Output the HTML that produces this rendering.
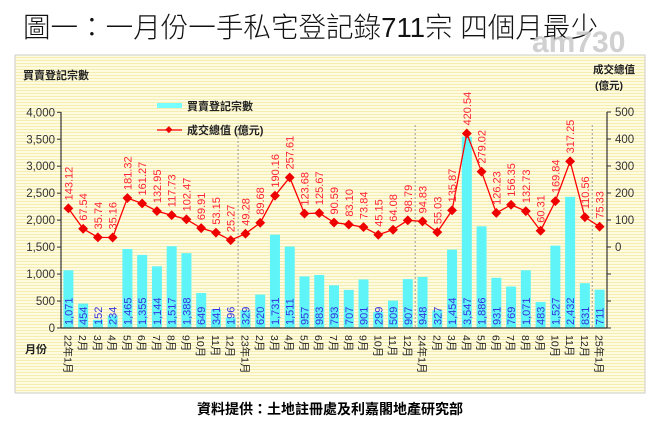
<!DOCTYPE html>
<html><head><meta charset="utf-8"><style>
body{margin:0;background:#fff;width:663px;height:431px;overflow:hidden}
svg{display:block}
text{font-family:"Liberation Sans","Noto Sans CJK TC",sans-serif}
</style></head><body>
<svg id="s" width="663" height="431" xmlns="http://www.w3.org/2000/svg">
<defs>
<pattern id="st" width="4" height="3" patternUnits="userSpaceOnUse">
<rect width="4" height="3" fill="#fffbe0"/><rect width="4" height="1" fill="#f6eeb0"/>
</pattern>
</defs>
<text x="23" y="37" font-size="28" font-weight="300" textLength="575" lengthAdjust="spacingAndGlyphs" fill="#111" font-family="'Noto Sans CJK TC',sans-serif">圖一：一月份一手私宅登記錄711宗 四個月最少</text>
<text x="532" y="52" font-size="30" font-weight="bold" fill="#c8c8c8" opacity="0.85">am730</text>
<rect x="15" y="55" width="630" height="338" fill="url(#st)" stroke="#ccc"/>
<g id="g"></g>
<text x="197" y="414" font-size="14" font-weight="bold" fill="#000" font-family="'Noto Sans CJK TC',sans-serif">資料提供：土地註冊處及利嘉閣地產研究部</text>
</svg>
<script>
var bars=[1071,454,152,234,1465,1355,1144,1517,1388,649,341,196,329,620,1731,1511,957,983,793,707,901,299,509,907,948,327,1454,3547,1886,931,769,1071,483,1527,2432,831,711];
var vals=["143.12","67.54","35.74","35.16","181.32","161.27","132.95","117.73","102.47","69.91","53.15","25.27","49.28","89.68","190.16","257.61","123.68","125.67","90.59","83.10","73.84","45.15","64.08","98.79","94.83","55.03","135.87","420.54","279.02","126.23","156.35","132.73","60.31","169.84","317.25","110.56","75.33"];
var h='',X0=61,X1=607,W=(X1-X0)/37,Y0=328,PY=215.7/4000;
function ry(v){return 247-v*0.27}
function cx(i){return X0+(i+0.5)*W}
[12,24,36].forEach(function(k){var x=X0+k*W;h+='<line x1="'+x+'" y1="125" x2="'+x+'" y2="'+Y0+'" stroke="#999" stroke-dasharray="2,2"/>';});
bars.forEach(function(b,i){var x=cx(i),y=Y0-b*PY;
h+='<rect x="'+(x-5)+'" y="'+y+'" width="10" height="'+(b*PY)+'" fill="#5ff5f8"/>';
var s=b.toLocaleString('en-US');
h+='<text transform="translate('+(x+4)+','+(Y0-3)+') rotate(-90)" font-size="11" fill="#3333dd">'+s+'</text>';
var m=(i%12)+1,lab=m+'月';if(m==1)lab=(22+i/12)+'年1月';
h+='<text transform="translate('+(x-4)+','+(Y0+7)+') rotate(90)" font-size="10.5" fill="#222">'+lab+'</text>';
});
var pts=vals.map(function(v,i){return cx(i)+','+ry(+v)}).join(' ');
h+='<polyline points="'+pts+'" fill="none" stroke="#f00" stroke-width="1.3"/>';
vals.forEach(function(v,i){var x=cx(i),y=ry(+v);
h+='<rect x="'+(x-3.5)+'" y="'+(y-3.5)+'" width="7" height="7" fill="#e00" transform="rotate(45 '+x+' '+y+')"/>';
h+='<text transform="translate('+(x+4)+','+(y-8)+') rotate(-90)" font-size="11" fill="#f23">'+v+'</text>';
});
h+='<line x1="'+X0+'" y1="112" x2="'+X0+'" y2="'+Y0+'" stroke="#333" stroke-width="1.2"/>';
h+='<line x1="'+X0+'" y1="'+Y0+'" x2="'+X1+'" y2="'+Y0+'" stroke="#333" stroke-width="1.2"/>';
h+='<line x1="'+X1+'" y1="112" x2="'+X1+'" y2="'+Y0+'" stroke="#333" stroke-width="1.2"/>';
for(var v=0;v<=4000;v+=500){var y=Y0-v*PY;h+='<line x1="'+(X0-4)+'" y1="'+y+'" x2="'+X0+'" y2="'+y+'" stroke="#333"/><text x="'+(X0-6)+'" y="'+(y+4)+'" font-size="11.5" text-anchor="end" fill="#333">'+v.toLocaleString('en-US')+'</text>';}
for(var v=-300;v<=500;v+=100){var y=ry(v);h+='<line x1="'+X1+'" y1="'+y+'" x2="'+(X1+4)+'" y2="'+y+'" stroke="#333"/>';if(v>=0)h+='<text x="'+(X1+8)+'" y="'+(y+4)+'" font-size="11.5" fill="#333">'+v+'</text>';}
var cj='font-family="\'Noto Sans CJK TC\',sans-serif" font-weight="bold"';
h+='<text x="23" y="79" font-size="11" fill="#222" '+cj+'>買賣登記宗數</text>';
h+='<text x="25" y="353" font-size="11" fill="#222" '+cj+'>月份</text>';
h+='<text x="593" y="73" font-size="10.5" fill="#222" '+cj+'>成交總值</text>';
h+='<text x="595" y="89" font-size="10.5" fill="#222" '+cj+'>(億元)</text>';
h+='<rect x="157" y="103" width="25" height="5" fill="#7ff"/>';
h+='<text x="187" y="110" font-size="11" fill="#222" '+cj+'>買賣登記宗數</text>';
h+='<line x1="157" y1="130" x2="182" y2="130" stroke="#f00" stroke-width="1.3"/><rect x="166" y="127" width="5" height="5" fill="#e00" transform="rotate(45 168.5 130)"/>';
h+='<text x="187" y="134" font-size="11" fill="#222" '+cj+'>成交總值 (億元)</text>';
document.getElementById('g').innerHTML=h;
</script>
</body></html>
